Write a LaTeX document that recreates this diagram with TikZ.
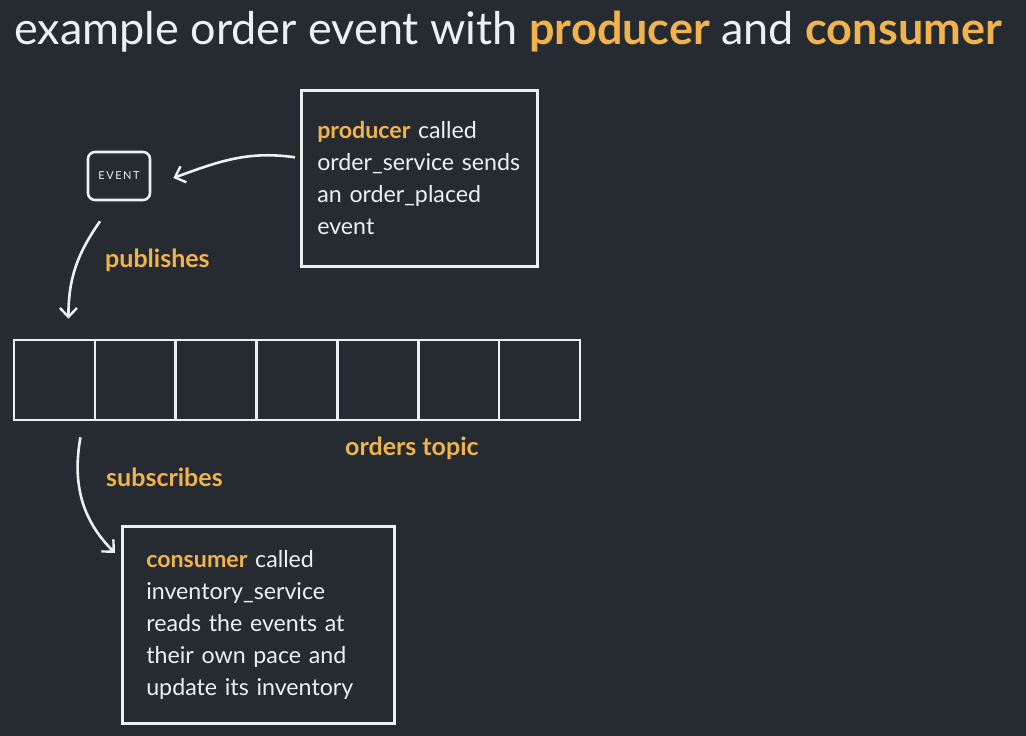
\documentclass[tikz,border=0pt]{standalone}
\usepackage{fontspec}
\setmainfont{Lato}
\newfontfamily\eventfont[LetterSpace=14]{Lato}
\usetikzlibrary{arrows.meta}
\definecolor{board}{RGB}{38,43,49}
\definecolor{chalk}{RGB}{236,240,242}
\definecolor{accent}{RGB}{241,180,76}

\tikzset{
  chalkline/.style={draw=chalk, line width=2.6pt},
  chalkarrow/.style={chalkline, -{Straight Barb[length=9pt,width=17pt,line width=2.4pt]}},
  notebox/.style={chalkline, anchor=north west, align=left, inner xsep=16pt, text=chalk,
    font=\fontsize{23.2}{32}\selectfont},
  cell/.style={chalkline, minimum width=80.86pt, minimum height=80pt, inner sep=0pt},
  tag/.style={anchor=west, text=accent, inner sep=0pt, font=\fontsize{25}{28}\selectfont\bfseries}
}

\begin{document}
\begin{tikzpicture}[x=1pt,y=-1pt]
% board
\fill[board] (0,0) rectangle (1026,736);
\useasboundingbox (0,0) rectangle (1026,736);

% Title
\node (title) [anchor=base west, inner sep=0pt, text=chalk, font=\fontsize{45}{52}\selectfont] at (14,45)
  {example order event with \textcolor{accent}{\bfseries producer} and \textcolor{accent}{\bfseries consumer}};

% Event
\node (event) [chalkline, rounded corners=7pt, minimum width=62pt, minimum height=48pt, text=chalk,
  font=\eventfont\fontsize{11}{13}\selectfont] at (119,176) {EVENT};

% Producer note
\node (prod) [notebox, text width=204pt, minimum height=176pt] at (300,89)
  {\textcolor{accent}{\bfseries producer} called\\order\_service sends\\an order\_placed\\event};

% Topic cells
\foreach \i in {1,...,7}
  \node (q\i) [cell] at ({14+80.86*(\i-0.5)},380) {};

% Consumer note
\node (cons) [notebox, inner xsep=24pt, text width=224pt, minimum height=197pt] at (121,525)
  {\textcolor{accent}{\bfseries consumer} called\\inventory\_service\\reads the events at\\their own pace and\\update its inventory};

% Labels
\node (pub) [tag] at (105,260) {publishes};
\node (sub) [tag] at (106,477) {subscribes};
\node (topic) [tag] at (345,448) {orders topic};

% Connectors
\draw[chalkarrow] ([yshift=21pt,xshift=-5pt]prod.west) to[out=172,in=20] ([xshift=22pt,yshift=-2pt]event.east);
\draw[chalkarrow] ([xshift=-19pt,yshift=-20pt]event.south) to[out=235,in=90] ([xshift=14pt,yshift=20pt]q1.north);
\draw[chalkarrow] ([xshift=26pt,yshift=-16pt]q1.south) to[out=260,in=135] ([xshift=-6pt,yshift=-28pt]cons.north west);

\end{tikzpicture}
\end{document}
